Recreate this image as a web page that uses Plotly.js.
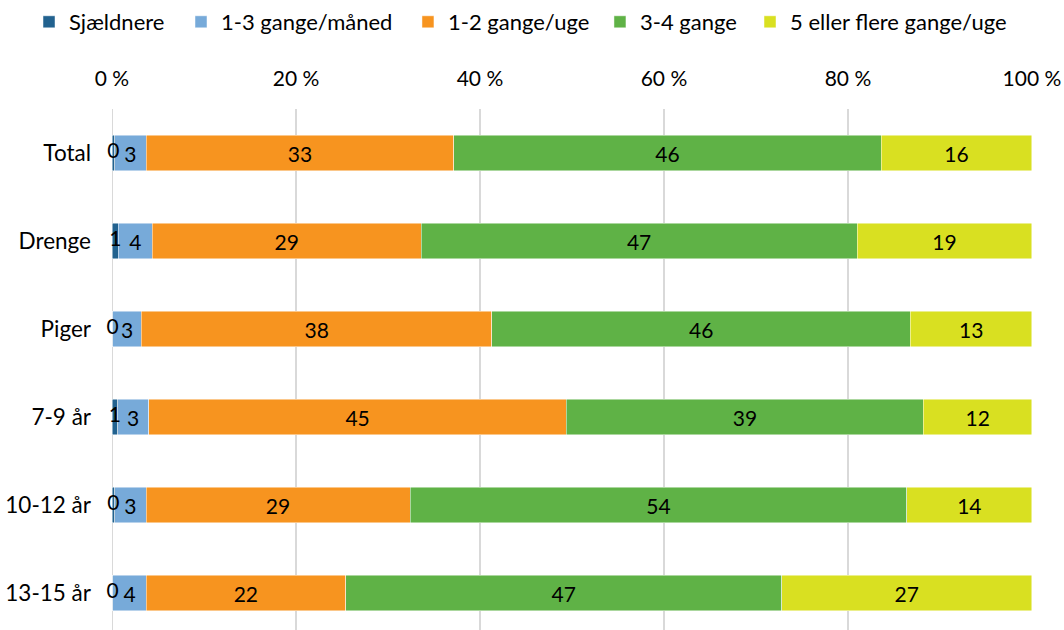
<!DOCTYPE html>
<html>
<head>
<meta charset="utf-8">
<script src="https://cdn.plot.ly/plotly-3.0.1.min.js"></script>
<style>html,body{margin:0;padding:0;background:#fff;}#chart{width:1064px;height:630px;}</style>
</head>
<body>
<div id="chart"></div>
<script>
const categories = ["Total", "Drenge", "Piger", "7-9 år", "10-12 år", "13-15 år"];
const seriesNames = ["Sjældnere", "1-3 gange/måned", "1-2 gange/uge", "3-4 gange", "5 eller flere gange/uge"];
const sjaeldnere = [0.3, 0.7, 0.1, 0.6, 0.3, 0.1];
const gangeMaaned = [3.4, 3.7, 3.1, 3.4, 3.4, 3.6];
const gangeUge12 = [33.45, 29.2, 38.1, 45.4, 28.7, 21.7];
const gange34 = [46.45, 47.4, 45.5, 38.8, 54.0, 47.4];
const gange5 = [16.4, 19.0, 13.2, 11.8, 13.6, 27.2];
const tickVals = [0, 20, 40, 60, 80, 100];
const tickText = ["0 %", "20 %", "40 %", "60 %", "80 %", "100 %"];
const colors = ["#22628f", "#77aad9", "#f7941f", "#5fb246", "#d9e021"];

const seriesValues = [sjaeldnere, gangeMaaned, gangeUge12, gange34, gange5];
const FONT = "Lato, 'Noto Sans', sans-serif";
const legendNames = ["legend", "legend2", "legend3", "legend4", "legend5"];
const legendX = [-0.0902, 0.0750, 0.3217, 0.5304, 0.6935];

const traces = seriesValues.map((vals, i) => ({
  type: "bar",
  orientation: "h",
  name: seriesNames[i],
  legend: legendNames[i],
  y: categories,
  x: vals,
  marker: {color: colors[i], line: {color: "rgba(255,255,255,0.6)", width: 0.8}},
  texttemplate: i === 0 ? "" : "%{x:.0f}",
  textposition: i === 0 ? "none" : "inside",
  insidetextanchor: "middle",
  textangle: 0,
  constraintext: "none",
  cliponaxis: false,
  textfont: {family: FONT, size: 21, color: "#000"},
  hoverinfo: "skip"
}));

// labels of the thin first segment, drawn on top of the stack
traces.push({
  type: "scatter",
  mode: "text",
  showlegend: false,
  x: sjaeldnere.map(v => v / 2),
  y: categories,
  text: sjaeldnere.map(v => Math.round(v).toString()),
  textposition: "middle center",
  textfont: {family: FONT, size: 21, color: "#000"},
  cliponaxis: false,
  hoverinfo: "skip"
});

const layout = {
  width: 1064, height: 630,
  margin: {l: 112, r: 32, t: 109, b: 0},
  barmode: "stack",
  bargap: 0.6,
  paper_bgcolor: "#fff",
  plot_bgcolor: "#fff",
  font: {family: FONT, size: 21, color: "#000"},
  showlegend: true,
  xaxis: {
    side: "top",
    range: [0, 100.01],
    tickvals: tickVals,
    ticktext: tickText,
    showgrid: true,
    gridcolor: "#d9d9d9",
    gridwidth: 2,
    zeroline: false,
    showline: false,
    ticks: "",
    ticklabelstandoff: 18,
    fixedrange: true
  },
  yaxis: {
    type: "category",
    range: [5.42, -0.5],
    showgrid: false,
    zeroline: false,
    showline: false,
    ticks: "",
    ticklabelstandoff: 20,
    tickfont: {family: FONT, size: 22.5, color: "#000"},
    fixedrange: true
  },
  shapes: [{
    type: "line", xref: "x", yref: "paper", x0: 0, x1: 0, y0: 0, y1: 1,
    line: {color: "#d9d9d9", width: 2}, layer: "below"
  }]
};
legendNames.forEach((ln, i) => {
  layout[ln] = {
    orientation: "h",
    x: legendX[i], xanchor: "left",
    y: 1.167, yanchor: "middle",
    itemwidth: 30,
    bgcolor: "rgba(0,0,0,0)",
    font: {family: FONT, size: 22, color: "#000"}
  };
});

Plotly.newPlot("chart", traces, layout, {displayModeBar: false, staticPlot: true});
</script>
</body>
</html>
